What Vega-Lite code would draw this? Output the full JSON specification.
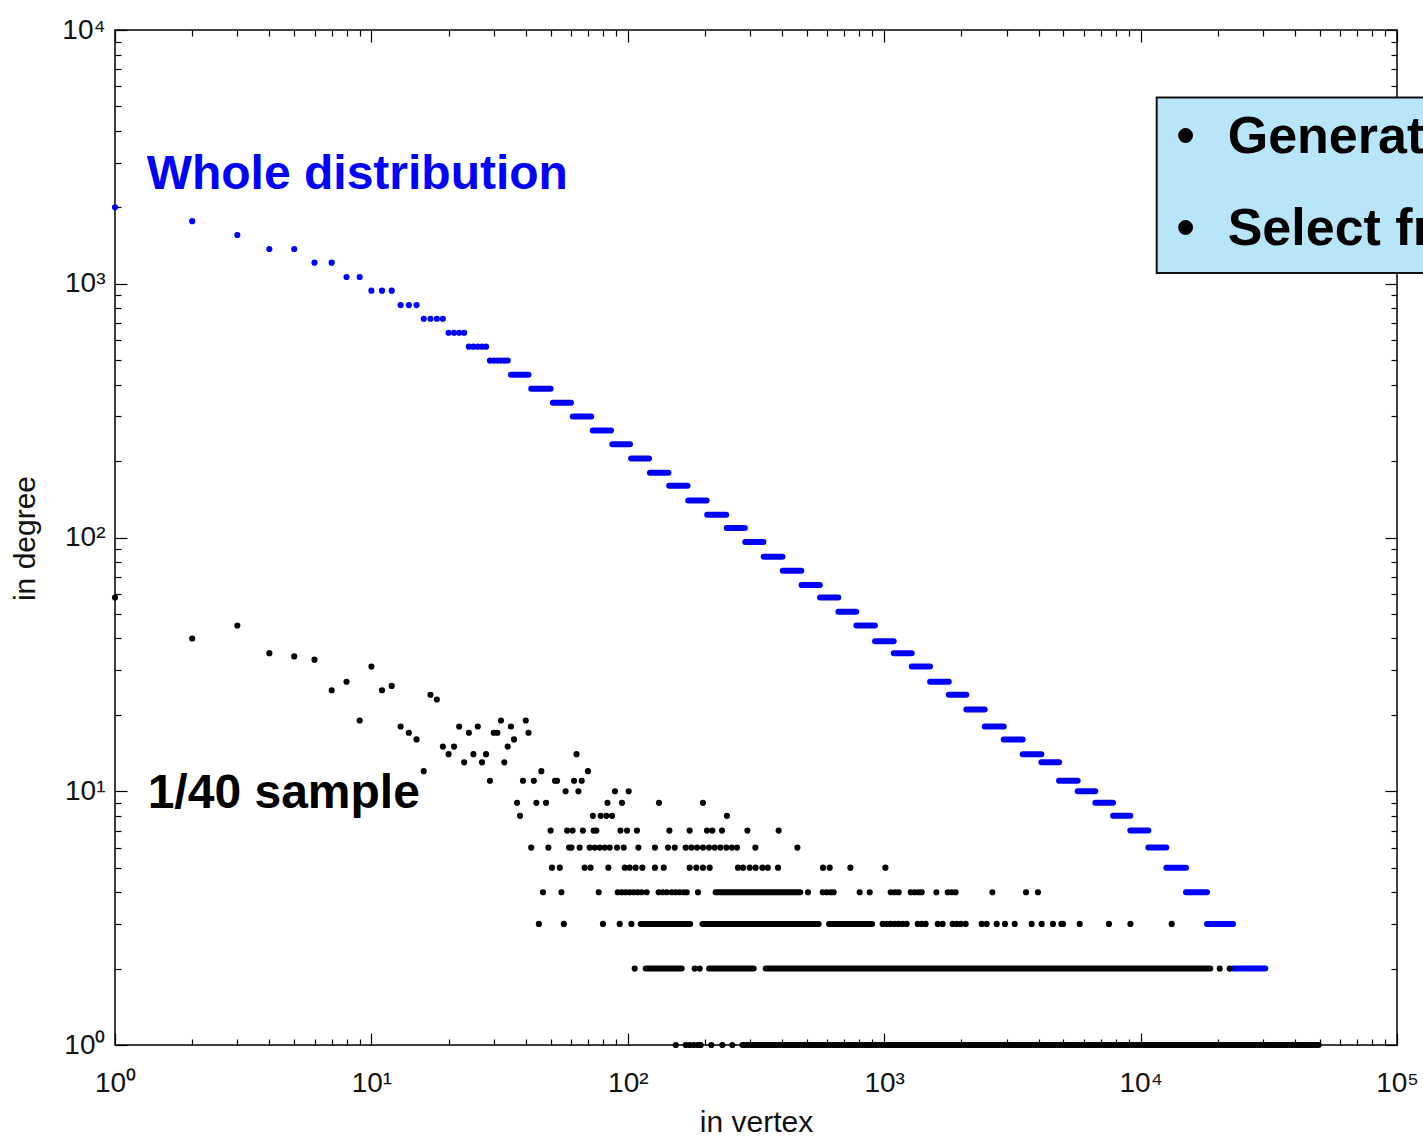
{
  "$schema": "https://vega.github.io/schema/vega-lite/v6.json",
  "width": 1282,
  "height": 1015,
  "autosize": {"type": "none"},
  "padding": {"left": 115, "top": 30, "right": 26, "bottom": 94},
  "background": "white",
  "config": {"font": "Liberation Sans", "view": {"stroke": "#000", "strokeWidth": 1.5}},
  "datasets": {
    "bluePts": [
      {"x":1,"y":2000},{"x":2,"y":1765},{"x":3,"y":1556},{"x":4,"y":1371},{"x":5,"y":1371},{"x":6,"y":1211},{"x":7,"y":1211},{"x":8,"y":1063},{"x":9,"y":1063},{"x":10,"y":939},{"x":11,"y":939},{"x":12,"y":939},{"x":13,"y":824},{"x":14,"y":824},{"x":15,"y":824},{"x":16,"y":728},{"x":17,"y":728},{"x":18,"y":728},{"x":19,"y":728},{"x":20,"y":641},{"x":21,"y":641},{"x":22,"y":641},{"x":23,"y":641},{"x":24,"y":565},{"x":25,"y":565},{"x":26,"y":565},{"x":27,"y":565},{"x":28,"y":565},{"x":29,"y":498},{"x":30,"y":498},{"x":31,"y":498},{"x":32,"y":498},{"x":33,"y":498},{"x":34,"y":498}
    ],
    "blueRuns": [
      {"x":35,"x2":41,"y":438},{"x":42,"x2":50,"y":386},{"x":51,"x2":60,"y":340},{"x":61,"x2":72,"y":300},{"x":73,"x2":86,"y":264},{"x":87,"x2":102,"y":233},{"x":103,"x2":121,"y":205},{"x":122,"x2":144,"y":180},{"x":145,"x2":171,"y":160},{"x":172,"x2":203,"y":140},{"x":204,"x2":242,"y":123},{"x":243,"x2":286,"y":109},{"x":287,"x2":338,"y":96},{"x":339,"x2":401,"y":84},{"x":402,"x2":475,"y":74},{"x":476,"x2":561,"y":65},{"x":562,"x2":662,"y":58},{"x":663,"x2":778,"y":51},{"x":779,"x2":920,"y":45},{"x":921,"x2":1089,"y":39},{"x":1090,"x2":1280,"y":35},{"x":1281,"x2":1509,"y":31},{"x":1510,"x2":1785,"y":27},{"x":1786,"x2":2090,"y":24},{"x":2091,"x2":2466,"y":21},{"x":2467,"x2":2925,"y":18},{"x":2926,"x2":3469,"y":16},{"x":3470,"x2":4101,"y":14},{"x":4102,"x2":4807,"y":13},{"x":4808,"x2":5683,"y":11},{"x":5684,"x2":6658,"y":10},{"x":6659,"x2":7805,"y":9},{"x":7806,"x2":9117,"y":8},{"x":9118,"x2":10718,"y":7},{"x":10719,"x2":12594,"y":6},{"x":12595,"x2":15035,"y":5},{"x":15036,"x2":18156,"y":4},{"x":18157,"x2":22930,"y":3},{"x":22931,"x2":30640,"y":2},{"x":30641,"x2":48000,"y":1}
    ],
    "blackRuns": [
      {"x":112.3,"x2":175.2,"y":3},{"x":195.4,"x2":555.2,"y":3},{"x":609.6,"x2":896.4,"y":3},{"x":220.1,"x2":470.7,"y":4},{"x":117.4,"x2":162.3,"y":2},{"x":207.5,"x2":309.7,"y":2},{"x":344.9,"x2":18700,"y":2},{"x":279.9,"x2":49495,"y":1}
    ],
    "blackPts": [
      {"x":1,"y":58},{"x":2,"y":40},{"x":3,"y":45},{"x":4,"y":35},{"x":5,"y":34},{"x":6,"y":33},{"x":7,"y":25},{"x":8,"y":27},{"x":9,"y":19},{"x":10,"y":31},{"x":11,"y":25},{"x":12,"y":26},{"x":13,"y":18},{"x":14,"y":17},{"x":15,"y":16},{"x":16,"y":12},{"x":17,"y":24},{"x":18,"y":23},{"x":19,"y":15},{"x":20,"y":14},{"x":21,"y":15},{"x":22,"y":18},{"x":23,"y":13},{"x":24,"y":17},{"x":25,"y":14},{"x":26,"y":18},{"x":27,"y":13},{"x":28,"y":14},{"x":29,"y":11},{"x":30,"y":17},{"x":31,"y":17},{"x":32,"y":19},{"x":33,"y":13},{"x":34,"y":15},{"x":35,"y":18},{"x":36,"y":16},{"x":37,"y":9},{"x":38,"y":8},{"x":39,"y":11},{"x":40,"y":19},{"x":41,"y":17},{"x":42,"y":6},{"x":43,"y":11},{"x":44,"y":9},{"x":46,"y":12},{"x":48,"y":9},{"x":49,"y":6},{"x":50,"y":7},{"x":52,"y":11},{"x":53,"y":11},
      {"x":63.1,"y":14},{"x":69.9,"y":12},{"x":61.7,"y":11},{"x":66.1,"y":11},
      {"x":57.2,"y":10},{"x":64.2,"y":10},{"x":89.1,"y":10},{"x":100.8,"y":10},
      {"x":83.3,"y":9},{"x":94.9,"y":9},{"x":132.3,"y":9},{"x":196.4,"y":9},
      {"x":73.1,"y":8},{"x":78.4,"y":8},{"x":82.5,"y":8},{"x":86.8,"y":8},{"x":243.7,"y":8},
      {"x":58,"y":7},{"x":60.9,"y":7},{"x":66.8,"y":7},{"x":73.6,"y":7},{"x":75.4,"y":7},{"x":93.6,"y":7},{"x":99.3,"y":7},{"x":108.6,"y":7},{"x":145.3,"y":7},{"x":174.3,"y":7},{"x":203.7,"y":7},{"x":213.7,"y":7},{"x":233,"y":7},{"x":292.8,"y":7},{"x":387.6,"y":7},
      {"x":59,"y":6},{"x":60.3,"y":6},{"x":64.9,"y":6},{"x":71,"y":6},{"x":74.3,"y":6},{"x":77.7,"y":6},{"x":81.3,"y":6},{"x":85,"y":6},{"x":90.8,"y":6},{"x":96.4,"y":6},{"x":110,"y":6},{"x":127.6,"y":6},{"x":143.5,"y":6},{"x":152.4,"y":6},{"x":168.2,"y":6},{"x":177,"y":6},{"x":186.1,"y":6},{"x":196.4,"y":6},{"x":207.3,"y":6},{"x":218.2,"y":6},{"x":229.6,"y":6},{"x":242.3,"y":6},{"x":254.8,"y":6},{"x":266.6,"y":6},{"x":314.5,"y":6},{"x":458.6,"y":6},
      {"x":50.6,"y":5},{"x":54.3,"y":5},{"x":67.9,"y":5},{"x":71.6,"y":5},{"x":84,"y":5},{"x":97.3,"y":5},{"x":101.7,"y":5},{"x":107.3,"y":5},{"x":114,"y":5},{"x":127.6,"y":5},{"x":138.1,"y":5},{"x":174.3,"y":5},{"x":185.1,"y":5},{"x":196.4,"y":5},{"x":208.6,"y":5},{"x":268.9,"y":5},{"x":281.4,"y":5},{"x":298.8,"y":5},{"x":315.2,"y":5},{"x":334.9,"y":5},{"x":351.6,"y":5},{"x":385.4,"y":5},{"x":577.2,"y":5},{"x":612.9,"y":5},{"x":738.1,"y":5},{"x":1011,"y":5},
      {"x":46.7,"y":4},{"x":55.1,"y":4},{"x":77,"y":4},{"x":91.3,"y":4},{"x":94.7,"y":4},{"x":98.1,"y":4},{"x":101.7,"y":4},{"x":105.4,"y":4},{"x":109.3,"y":4},{"x":113.3,"y":4},{"x":118.5,"y":4},{"x":131.9,"y":4},{"x":136.8,"y":4},{"x":141.9,"y":4},{"x":148.3,"y":4},{"x":153.7,"y":4},{"x":159.4,"y":4},{"x":165.2,"y":4},{"x":169.8,"y":4},{"x":187.8,"y":4},{"x":504.4,"y":4},{"x":575.4,"y":4},{"x":596.5,"y":4},{"x":618.4,"y":4},{"x":635.3,"y":4},{"x":802.5,"y":4},{"x":878,"y":4},{"x":1060,"y":4},{"x":1099,"y":4},{"x":1139,"y":4},{"x":1269,"y":4},{"x":1315,"y":4},{"x":1363,"y":4},{"x":1401,"y":4},{"x":1598,"y":4},{"x":1769,"y":4},{"x":1833,"y":4},{"x":1900,"y":4},{"x":2642,"y":4},{"x":3573,"y":4},{"x":3979,"y":4},
      {"x":45,"y":3},{"x":56.3,"y":3},{"x":80,"y":3},{"x":93,"y":3},{"x":103.3,"y":3},{"x":986.4,"y":3},{"x":1022.6,"y":3},{"x":1060,"y":3},{"x":1099,"y":3},{"x":1139,"y":3},{"x":1180.6,"y":3},{"x":1223.9,"y":3},{"x":1351,"y":3},{"x":1401,"y":3},{"x":1451.5,"y":3},{"x":1617,"y":3},{"x":1690.4,"y":3},{"x":1849,"y":3},{"x":1917,"y":3},{"x":1988,"y":3},{"x":2078,"y":3},{"x":2400,"y":3},{"x":2509,"y":3},{"x":2747,"y":3},{"x":2959,"y":3},{"x":3228,"y":3},{"x":3760,"y":3},{"x":4114,"y":3},{"x":4553,"y":3},{"x":4910,"y":3},{"x":4981,"y":3},{"x":5787,"y":3},{"x":7528,"y":3},{"x":9126,"y":3},{"x":13224,"y":3},
      {"x":106.4,"y":2},{"x":182.3,"y":2},{"x":190.7,"y":2},{"x":20350,"y":2},{"x":22260,"y":2},
      {"x":153.8,"y":1},{"x":168.2,"y":1},{"x":174.3,"y":1},{"x":180.7,"y":1},{"x":187.3,"y":1},{"x":192.4,"y":1},{"x":211.8,"y":1},{"x":233.8,"y":1},{"x":255.7,"y":1}
    ],
    "blueLabel": [{"x":1.329,"y":2369,"t":"Whole distribution"}],
    "blackLabel": [{"x":1.341,"y":8.61,"t":"1/40 sample"}],
    "box": [{"x":11553,"x2":200000,"y":5426,"y2":1103}],
    "boxLines": [{"bx":14994,"tx":21860,"y":3269,"t":"Generat"},{"bx":14994,"tx":21860,"y":1425,"t":"Select fr"}]
  },
  "resolve": {"axis": {"x": "independent", "y": "independent"}},
  "layer": [
    {
      "data": {"name": "blueRuns"},
      "mark": {"type": "rule", "color": "#0000ff", "strokeWidth": 6, "strokeCap": "round"},
      "encoding": {
        "x": {"field": "x", "type": "quantitative", "scale": {"type": "log", "domain": [1, 100000], "nice": false},
          "axis": {"orient": "bottom", "title": "in vertex", "titleFont": "Liberation Sans", "titleFontSize": 30, "titleFontWeight": "normal", "titleColor": "#111", "titleBaseline": "middle", "titleY": 77,
            "values": [1,2,3,4,5,6,7,8,9,10,20,30,40,50,60,70,80,90,100,200,300,400,500,600,700,800,900,1000,2000,3000,4000,5000,6000,7000,8000,9000,10000,20000,30000,40000,50000,60000,70000,80000,90000,100000],
            "labelExpr": "abs(log(datum.value)/LN10 - round(log(datum.value)/LN10)) < 0.001 ? '10' + ['⁰','¹','²','³','⁴','⁵'][round(log(datum.value)/LN10)] : ''",
            "labelFont": "Liberation Sans", "labelFontSize": 28, "labelColor": "#111", "labelPadding": 36, "labelFlush": false, "labelOverlap": false, "labelBound": false,
            "domain": false, "grid": false, "tickColor": "#000", "tickWidth": 1.2,
            "tickSize": {"condition": {"test": "abs(log(datum.value)/LN10 - round(log(datum.value)/LN10)) < 0.001", "value": -12}, "value": -6}}},
        "x2": {"field": "x2"},
        "y": {"field": "y", "type": "quantitative", "scale": {"type": "log", "domain": [1, 10000], "nice": false},
          "axis": {"orient": "left", "title": "in degree", "titleFont": "Liberation Sans", "titleFontSize": 30, "titleFontWeight": "normal", "titleColor": "#111", "titleAngle": 270, "titleBaseline": "middle", "titleAlign": "center", "titleX": -90, "titleY": 508,
            "values": [1,2,3,4,5,6,7,8,9,10,20,30,40,50,60,70,80,90,100,200,300,400,500,600,700,800,900,1000,2000,3000,4000,5000,6000,7000,8000,9000,10000],
            "labelExpr": "abs(log(datum.value)/LN10 - round(log(datum.value)/LN10)) < 0.001 ? '10' + ['⁰','¹','²','³','⁴','⁵'][round(log(datum.value)/LN10)] : ''",
            "labelFont": "Liberation Sans", "labelFontSize": 28, "labelColor": "#111", "labelPadding": 22, "labelFlush": false, "labelOverlap": false, "labelBound": false,
            "domain": false, "grid": false, "tickColor": "#000", "tickWidth": 1.2,
            "tickSize": {"condition": {"test": "abs(log(datum.value)/LN10 - round(log(datum.value)/LN10)) < 0.001", "value": -12}, "value": -6}}}
      }
    },
    {
      "data": {"name": "bluePts"},
      "mark": {"type": "circle", "color": "#0000ff", "size": 38, "opacity": 1},
      "encoding": {
        "x": {"field": "x", "type": "quantitative", "scale": {"type": "log", "domain": [1, 100000], "nice": false},
          "axis": {"orient": "top", "title": null, "labels": false, "domain": false, "grid": false, "tickColor": "#000", "tickWidth": 1.2,
            "values": [1,2,3,4,5,6,7,8,9,10,20,30,40,50,60,70,80,90,100,200,300,400,500,600,700,800,900,1000,2000,3000,4000,5000,6000,7000,8000,9000,10000,20000,30000,40000,50000,60000,70000,80000,90000,100000],
            "tickSize": {"condition": {"test": "abs(log(datum.value)/LN10 - round(log(datum.value)/LN10)) < 0.001", "value": -12}, "value": -6}}},
        "y": {"field": "y", "type": "quantitative", "scale": {"type": "log", "domain": [1, 10000], "nice": false},
          "axis": {"orient": "right", "title": null, "labels": false, "domain": false, "grid": false, "tickColor": "#000", "tickWidth": 1.2,
            "values": [1,2,3,4,5,6,7,8,9,10,20,30,40,50,60,70,80,90,100,200,300,400,500,600,700,800,900,1000,2000,3000,4000,5000,6000,7000,8000,9000,10000],
            "tickSize": {"condition": {"test": "abs(log(datum.value)/LN10 - round(log(datum.value)/LN10)) < 0.001", "value": -12}, "value": -6}}}
      }
    },
    {
      "data": {"name": "blackRuns"},
      "mark": {"type": "rule", "color": "#000", "strokeWidth": 6, "strokeCap": "round"},
      "encoding": {
        "x": {"field": "x", "type": "quantitative", "axis": null},
        "x2": {"field": "x2"},
        "y": {"field": "y", "type": "quantitative", "axis": null}
      }
    },
    {
      "data": {"name": "blackPts"},
      "mark": {"type": "circle", "color": "#000", "size": 38, "opacity": 1},
      "encoding": {
        "x": {"field": "x", "type": "quantitative", "axis": null},
        "y": {"field": "y", "type": "quantitative", "axis": null}
      }
    },
    {
      "data": {"name": "blueLabel"},
      "mark": {"type": "text", "align": "left", "baseline": "alphabetic", "font": "Liberation Sans", "fontSize": 48, "fontWeight": "bold", "color": "#0000ff"},
      "encoding": {
        "x": {"field": "x", "type": "quantitative", "axis": null},
        "y": {"field": "y", "type": "quantitative", "axis": null},
        "text": {"field": "t"}
      }
    },
    {
      "data": {"name": "blackLabel"},
      "mark": {"type": "text", "align": "left", "baseline": "alphabetic", "font": "Liberation Sans", "fontSize": 48, "fontWeight": "bold", "color": "#000"},
      "encoding": {
        "x": {"field": "x", "type": "quantitative", "axis": null},
        "y": {"field": "y", "type": "quantitative", "axis": null},
        "text": {"field": "t"}
      }
    },
    {
      "data": {"name": "box"},
      "mark": {"type": "rect", "fill": "#b9e5f9", "stroke": "#111", "strokeWidth": 2},
      "encoding": {
        "x": {"field": "x", "type": "quantitative", "axis": null},
        "x2": {"field": "x2"},
        "y": {"field": "y", "type": "quantitative", "axis": null},
        "y2": {"field": "y2"}
      }
    },
    {
      "data": {"name": "boxLines"},
      "mark": {"type": "text", "align": "center", "baseline": "alphabetic", "font": "Liberation Sans", "fontSize": 52, "fontWeight": "bold", "color": "#000"},
      "encoding": {
        "x": {"field": "bx", "type": "quantitative", "axis": null},
        "y": {"field": "y", "type": "quantitative", "axis": null},
        "text": {"value": "•"}
      }
    },
    {
      "data": {"name": "boxLines"},
      "mark": {"type": "text", "align": "left", "baseline": "alphabetic", "font": "Liberation Sans", "fontSize": 52, "fontWeight": "bold", "color": "#000"},
      "encoding": {
        "x": {"field": "tx", "type": "quantitative", "axis": null},
        "y": {"field": "y", "type": "quantitative", "axis": null},
        "text": {"field": "t"}
      }
    }
  ]
}
